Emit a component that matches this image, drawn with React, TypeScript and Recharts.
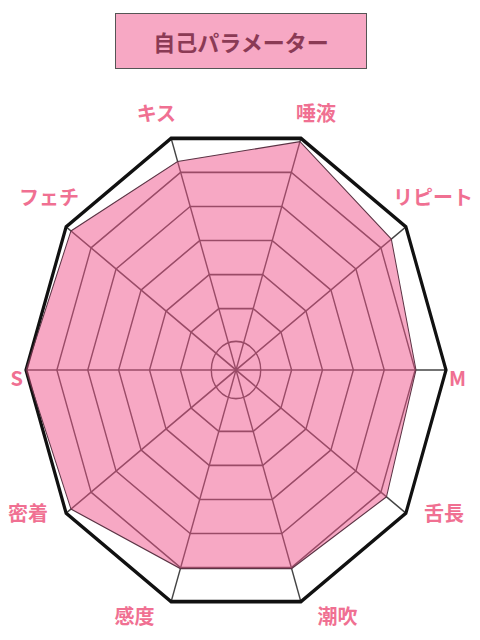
import React from 'react';
import { RadarChart, Radar, PolarGrid, PolarAngleAxis, PolarRadiusAxis } from 'recharts';

const TITLE = '自己パラメーター';
const categories = ['唾液', 'リピート', 'M', '舌長', '潮吹', '感度', '密着', 'S', 'フェチ', 'キス'];
const values = [6.9, 6.4, 6.0, 6.2, 6.0, 6.0, 6.8, 7.0, 6.8, 6.3];
const gridLevels = [1, 2, 3, 4, 5, 6, 7];
const DOMAIN_MIN = 0.2;
const DOMAIN_MAX = 7;

const data = categories.map((name, i) => ({ name, value: values[i] }));

const W = 480;
const H = 640;
const CX = 236;
const CY = 370;
const R = 210;
const SY = 1.16;

const levelRadius = (v: number) => ((v - DOMAIN_MIN) / (DOMAIN_MAX - DOMAIN_MIN)) * R;
const innerCircle = [levelRadius(gridLevels[0])];
const midPolys = gridLevels.slice(1, -1).map(levelRadius);
const outerPoly = [levelRadius(gridLevels[gridLevels.length - 1])];

const LABEL_FONT = '"Noto Sans CJK JP", "Noto Sans", sans-serif';

const AngleTick = (props: any) => {
  const { x, y, payload } = props;
  const th = Math.atan2(-(y - CY), x - CX);
  const c = Math.cos(th);
  const s = Math.sin(th);
  let k = 213;
  let yScreen = 377;
  if (s > 0.1) {
    k = 194;
    yScreen = 376 - s * 228.6 - 45.6;
  } else if (s < -0.1) {
    k = 213 + 56 * s * s;
    yScreen = 376 - s * 283.7 - 30.3;
  }
  const nearX = CX + c * k;
  const ySvg = CY + (yScreen - CY) / SY;
  return (
    <text
      transform={`translate(${nearX},${ySvg}) scale(1,${1 / SY})`}
      x={0}
      y={0}
      textAnchor={c > 0 ? 'start' : 'end'}
      dominantBaseline="central"
      fill="#f07092"
      fontSize={20}
      fontWeight={700}
      fontFamily={LABEL_FONT}
    >
      {payload.value}
    </text>
  );
};

export default function App() {
  return (
    <div style={{ position: 'absolute', left: 0, top: 0, width: W, height: H, background: '#fff', overflow: 'hidden' }}>
      <div
        style={{
          position: 'absolute',
          left: 115,
          top: 13,
          width: 252,
          height: 56,
          boxSizing: 'border-box',
          background: '#f7a8c4',
          border: '1.5px solid #555',
          display: 'flex',
          alignItems: 'center',
          justifyContent: 'center',
          fontFamily: LABEL_FONT,
          fontWeight: 700,
          fontSize: 22,
          color: '#8b3a55',
        }}
      >
        {TITLE}
      </div>
      <div
        style={{
          position: 'absolute',
          left: 0,
          top: 0,
          width: W,
          height: H,
          transform: `scaleY(${SY})`,
          transformOrigin: `${CX}px ${CY}px`,
        }}
      >
        <RadarChart
          width={W}
          height={H}
          data={data}
          cx={CX}
          cy={CY}
          outerRadius={R}
          startAngle={72}
          endAngle={-288}
          margin={{ top: 0, right: 0, bottom: 0, left: 0 }}
        >
          <PolarGrid gridType="polygon" polarRadius={midPolys} stroke="#444" strokeWidth={1.4} radialLines={true} />
          <PolarGrid gridType="circle" polarRadius={innerCircle} stroke="#444" strokeWidth={1.4} radialLines={false} />
          <PolarGrid gridType="polygon" polarRadius={outerPoly} stroke="#111" strokeWidth={3.2} radialLines={false} />
          <PolarRadiusAxis domain={[DOMAIN_MIN, DOMAIN_MAX]} type="number" tick={false} axisLine={false} />
          <PolarAngleAxis dataKey="name" tick={<AngleTick />} tickLine={false} axisLine={false} />
          <Radar
            dataKey="value"
            fill="#ef5189"
            fillOpacity={0.5}
            stroke="#5b3344"
            strokeWidth={1}
            isAnimationActive={false}
          />
        </RadarChart>
      </div>
    </div>
  );
}
